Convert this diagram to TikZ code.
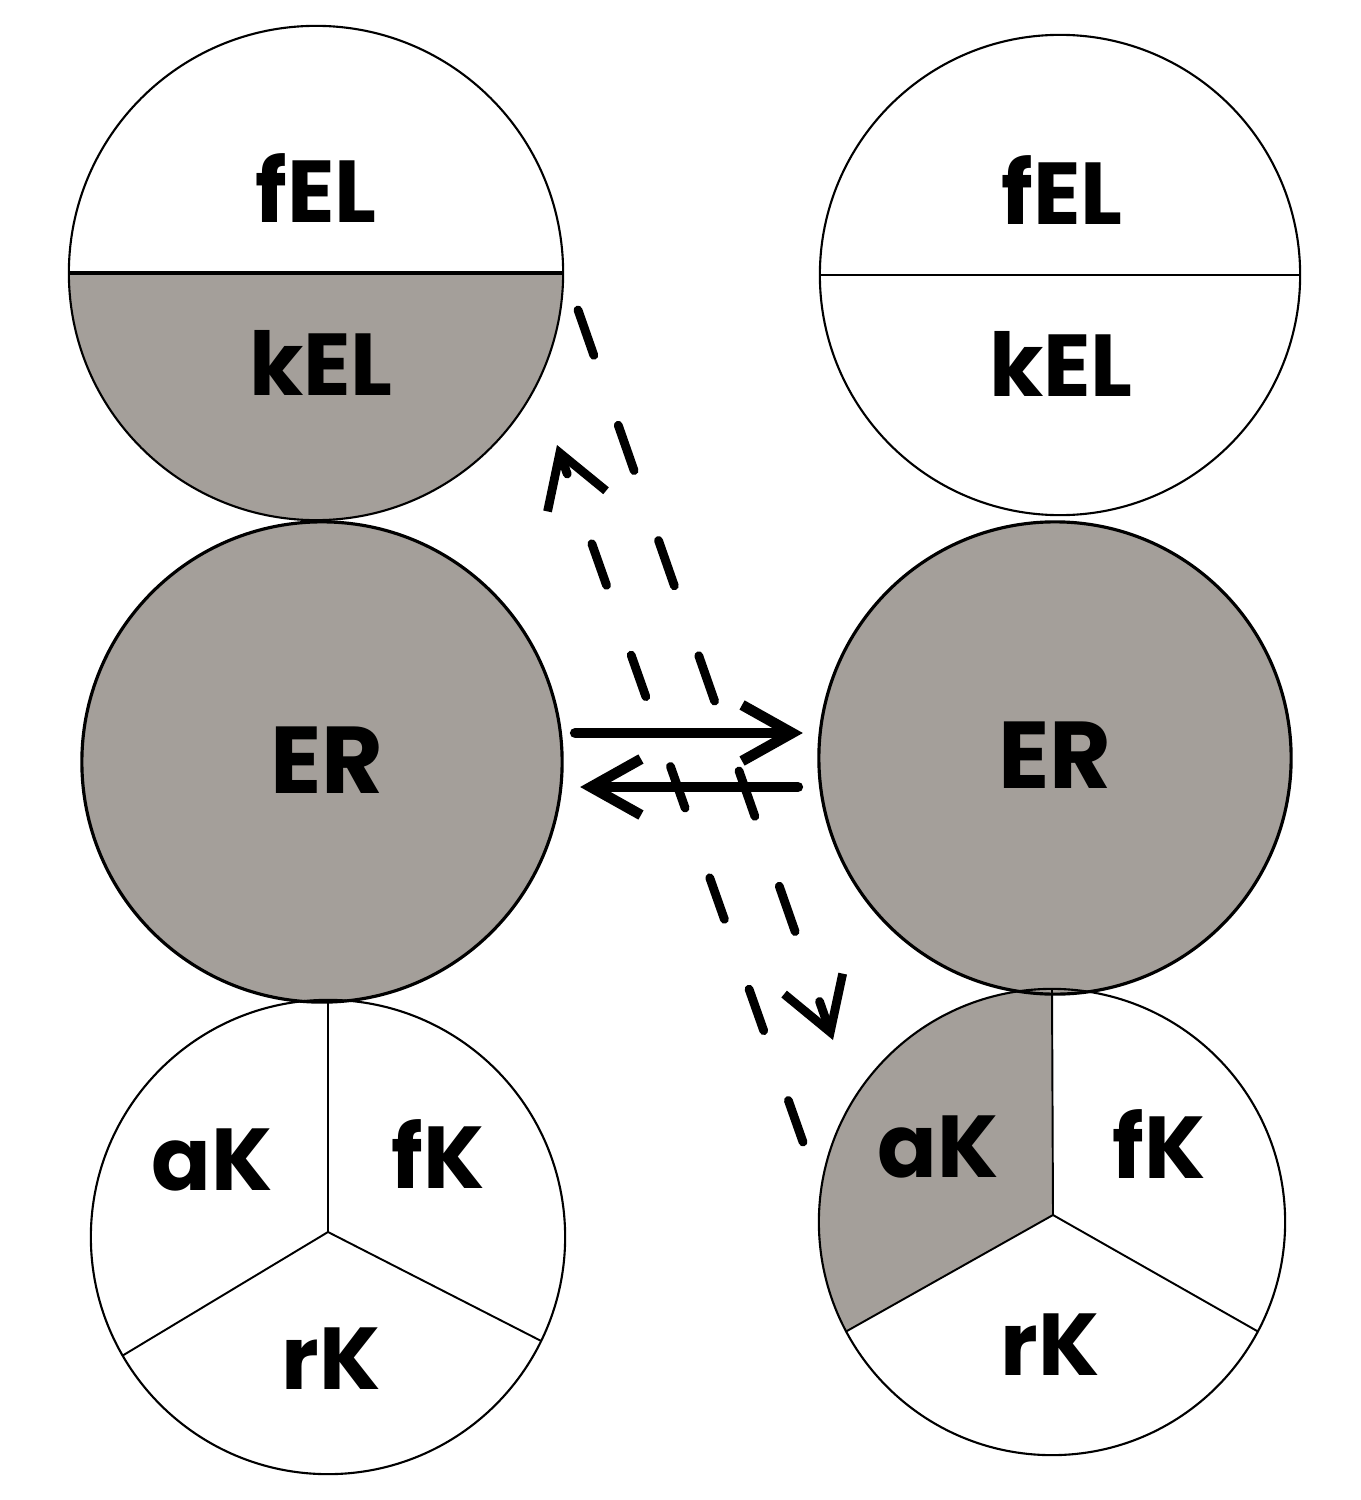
\documentclass[tikz,border=0pt]{standalone}
\usepackage{fontspec}
\setmainfont{Poppins}
\usetikzlibrary{arrows.meta,calc}
\pgfdeclarelayer{bg}
\pgfsetlayers{bg,main}
\definecolor{gry}{RGB}{164,159,154}
\begin{document}
\begin{tikzpicture}[x=0.01cm,y=-0.01cm,
  lbl/.style={font=\fontsize{25}{30}\selectfont\bfseries, inner sep=0pt},
  biglbl/.style={font=\fontsize{27}{32}\selectfont\bfseries, inner sep=0pt},
  ring/.style={circle, inner sep=0pt, outer sep=0pt, draw=black, line width=0.6pt},
  grayring/.style={ring, fill=gry, line width=0.9pt},
  sep/.style={draw=black, line width=0.55pt},
  solarr/.style={line width=3pt, line cap=round, -{Straight Barb[length=0.5cm,width=0.56cm]}},
  dashA/.style={line width=2.5pt, line cap=round, dash pattern=on 0.48cm off 0.74cm, -{Straight Barb[length=0.51cm,width=0.62cm]}},
  dashB/.style={line width=2.5pt, line cap=round, dash pattern=on 0.44cm off 0.74cm, -{Straight Barb[length=0.51cm,width=0.62cm]}}
]
\path[use as bounding box] (0,0) rectangle (1360,1500);

% circles
\node[ring, minimum size=4.94cm] (tl) at (316,273) {};
\node[grayring, minimum size=4.80cm] (erL) at (322,762) {};
\node[ring, minimum size=4.74cm] (bl) at (328,1237) {};
\node[ring, minimum size=4.80cm] (tr) at (1060,275) {};
\node[grayring, minimum size=4.72cm] (erR) at (1055,758) {};
\node[ring, minimum size=4.66cm] (br) at (1052,1222) {};

\coordinate (blj) at (328,1232);
\coordinate (brj) at (1053,1215);

\begin{pgfonlayer}{bg}
  \fill[white] (0,0) rectangle (1360,1500);
  \fill[gry] (tl.west) arc[start angle=180, end angle=360, radius=2.47cm] -- cycle;
  \fill[gry] (brj) -- (br.90) arc[start angle=90, end angle=208, radius=2.33cm] -- cycle;
\end{pgfonlayer}

% dividers
\draw[line width=1.1pt] (tl.west) -- (tl.east);
\draw[sep] (tr.west) -- (tr.east);
\draw[sep] (bl.90) -- (blj) -- (bl.210);
\draw[sep] (blj) -- (bl.334);
\draw[sep] (br.90) -- (brj) -- (br.208);
\draw[sep] (brj) -- (br.332);

% labels
\node[lbl] (tFL) at (316,188) {fEL};
\node[lbl] (tKL) at (321,363) {kEL};
\node[lbl] (tFR) at (1062,190) {fEL};
\node[lbl] (tKR) at (1061,364) {kEL};
\node[biglbl] (eL) at (327,760) {ER};
\node[biglbl] (eR) at (1055,755) {ER};
\node[lbl] (aKL) at (212,1160) {aK};
\node[lbl] (fKL) at (438,1154) {fK};
\node[lbl] (rKL) at (331,1359) {rK};
\node[lbl] (aKR) at (938,1147) {aK};
\node[lbl] (fKR) at (1159,1144) {fK};
\node[lbl] (rKR) at (1050,1345) {rK};

% reaction arrows
\draw[solarr] ($(erL.east)+(13,-29)$) -- ($(erR.west)+(-16,-25)$);
\draw[solarr] ($(erR.west)+(-21,29)$) -- ($(erL.east)+(18,25)$);

% dashed arrows
\draw[dashA] ($(tl)+(262,37)$) -- ($(br)+(-219,-182)$);
\draw[dashB] ($(br)+(-249,-80)$) -- ($(tl)+(241,172)$);
\end{tikzpicture}
\end{document}
